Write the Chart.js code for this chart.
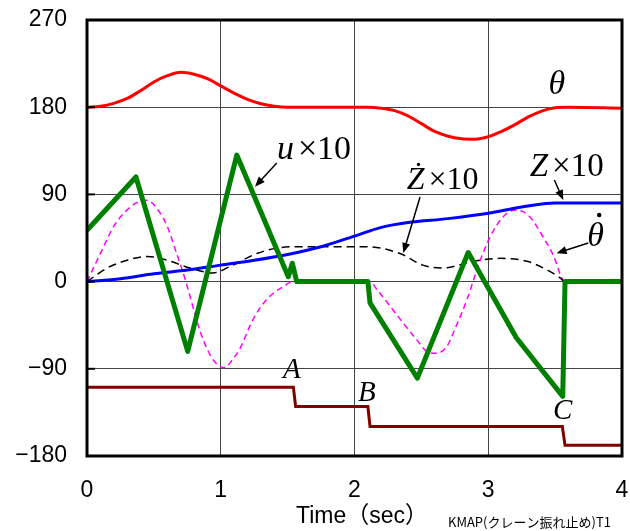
<!DOCTYPE html>
<html>
<head>
<meta charset="utf-8">
<script src="https://cdn.jsdelivr.net/npm/chart.js@4.4.0/dist/chart.umd.min.js"></script>
<style>
  html, body { margin: 0; padding: 0; background: #fff; }
  #wrap { width: 630px; height: 531px; }
</style>
</head>
<body>
<div id="wrap"><canvas id="c" width="630" height="531"></canvas></div>
<script>
// time axis (sec) and values
const xTicks = [0, 1, 2, 3, 4];
const yTicks = [-180, -90, 0, 90, 180, 270];

// theta (deg)
const thetaT = [0, 0.1, 0.2, 0.3, 0.4, 0.5, 0.6, 0.7, 0.8, 0.9, 1.0, 1.1, 1.2, 1.3, 1.4, 1.5, 1.6, 2.1, 2.2, 2.3, 2.4, 2.5, 2.6, 2.7, 2.8, 2.9, 3.0, 3.1, 3.2, 3.3, 3.4, 3.5, 3.6, 4.0];
const thetaV = [180, 181, 184, 189, 197, 206, 212.5, 216, 214, 209.5, 202, 194.5, 188, 183.5, 181, 180, 180, 180, 179, 176.5, 171, 163, 155, 150, 147.5, 147, 149.5, 155, 162, 170, 176, 179.5, 180, 179];

// Z x10
const zT = [0, 0.25, 0.5, 0.75, 1.0, 1.25, 1.5, 1.75, 2.0, 2.2, 2.4, 2.7, 3.0, 3.25, 3.5, 3.75, 4.0];
const zV = [0, 3, 8, 12, 17, 22, 28, 36, 47, 56, 61, 65, 70.5, 77, 81, 81, 81];

// Z-dot x10
const zdT = [0, 0.15, 0.3, 0.45, 0.6, 0.77, 0.94, 1.09, 1.27, 1.44, 1.6, 2.09, 2.34, 2.51, 2.66, 2.89, 3.09, 3.29, 3.44, 3.54, 3.57, 4.0];
const zdV = [0, 14, 22, 26, 22, 14, 9, 17, 29, 35, 36, 36, 29, 17, 14, 21, 24, 21, 12, 3.5, 0, 0];

// theta-dot
const tdT = [0, 0.1, 0.2, 0.3, 0.38, 0.45, 0.52, 0.6, 0.67, 0.7, 0.75, 0.8, 0.85, 0.9, 0.95, 1.0, 1.03, 1.09, 1.14, 1.24, 1.34, 1.47, 1.54, 2.116, 2.17, 2.27, 2.365, 2.465, 2.54, 2.61, 2.69, 2.76, 2.84, 2.94, 3.04, 3.14, 3.21, 3.31, 3.41, 3.49, 3.55, 3.57, 4.0];
const tdV = [0, 29, 57, 74, 82, 84, 76, 57, 29, 17, -5, -30, -53, -70, -82, -88, -89, -80, -70, -39.5, -19, -5, 0, 0, -8.6, -26, -43, -60, -72, -74, -67, -46, -19, 22, 53, 70.5, 74, 67, 46, 26, 3.5, 0, 0];

// u x10
const uT = [0, 0.366, 0.753, 1.12, 1.505, 1.535, 1.568, 2.10, 2.116, 2.47, 2.85, 3.21, 3.557, 3.574, 4.0];
const uV = [53, 108, -72, 130.6, 5, 19, 0, 0, -22, -99.6, 30, -58, -118.5, 0, 0];

// switching steps A, B, C
const stepT = [0, 1.543, 1.56, 2.10, 2.116, 3.554, 3.574, 4.0];
const stepV = [-109, -109, -129, -129, -149.5, -149.5, -169, -169];

function pts(xs, ys) {
    return xs.map((x, i) => ({ x: x, y: ys[i] }));
}

const serif = '"Liberation Serif", "DejaVu Serif", serif';
const sans = '"Liberation Sans", Arial, sans-serif';

function arrow(ctx, x1, y1, x2, y2) {
    const a = Math.atan2(y2 - y1, x2 - x1);
    const len = 10, half = 4;
    ctx.strokeStyle = '#000';
    ctx.fillStyle = '#000';
    ctx.lineWidth = 1.5;
    ctx.beginPath();
    ctx.moveTo(x1, y1);
    ctx.lineTo(x2 - Math.cos(a) * len * 0.8, y2 - Math.sin(a) * len * 0.8);
    ctx.stroke();
    ctx.beginPath();
    ctx.moveTo(x2, y2);
    ctx.lineTo(x2 - Math.cos(a) * len - Math.sin(a) * half, y2 - Math.sin(a) * len + Math.cos(a) * half);
    ctx.lineTo(x2 - Math.cos(a) * len + Math.sin(a) * half, y2 - Math.sin(a) * len - Math.cos(a) * half);
    ctx.closePath();
    ctx.fill();
}

// italic letter followed by upright "×10"
function label(ctx, letter, x, y, size) {
    ctx.font = 'italic ' + size + 'px ' + serif;
    ctx.fillText(letter, x, y);
    x += ctx.measureText(letter).width + 4;
    ctx.font = size + 'px ' + serif;
    ctx.fillText('×10', x, y);
}

const extras = {
    id: 'extras',
    beforeDraw(chart) {
        const ctx = chart.ctx;
        ctx.save();
        ctx.fillStyle = '#fff';
        ctx.fillRect(0, 0, chart.width, chart.height);
        ctx.restore();
    },
    afterDraw(chart) {
        const ctx = chart.ctx;
        const a = chart.chartArea;
        const sx = chart.scales.x, sy = chart.scales.y;
        const X = v => sx.getPixelForValue(v);
        const Y = v => sy.getPixelForValue(v);
        ctx.save();

        // frame
        ctx.strokeStyle = '#000';
        ctx.lineWidth = 3;
        ctx.strokeRect(a.left, a.top, a.right - a.left, a.bottom - a.top);

        // small tick marks on the left axis
        ctx.lineWidth = 2;
        yTicks.forEach(v => {
            ctx.beginPath();
            ctx.moveTo(a.left, Y(v));
            ctx.lineTo(a.left + 8, Y(v));
            ctx.stroke();
        });

        ctx.fillStyle = '#000';
        ctx.textBaseline = 'middle';
        ctx.textAlign = 'left';

        // theta
        ctx.font = 'italic 34px ' + serif;
        ctx.fillText('θ', X(3.45), Y(203));

        label(ctx, 'u', X(1.42), Y(136), 34);
        arrow(ctx, X(1.419), Y(122.4), X(1.256), Y(98));

        label(ctx, 'Ż', X(2.39), Y(104), 32);
        arrow(ctx, X(2.49), Y(87.3), X(2.365), Y(29.6));

        label(ctx, 'Z', X(3.31), Y(118), 33);
        arrow(ctx, X(3.494), Y(104.8), X(3.561), Y(84.2));

        // theta-dot
        ctx.font = 'italic 34px ' + serif;
        ctx.fillText('θ', X(3.74), Y(46));
        ctx.beginPath();
        ctx.arc(X(3.74) + 12, Y(46) - 22, 2.2, 0, Math.PI * 2);
        ctx.fill();
        arrow(ctx, X(3.748), Y(39.9), X(3.511), Y(29.3));

        // A, B, C
        ctx.font = 'italic 29px ' + serif;
        ctx.fillText('A', X(1.465), Y(-92));
        ctx.fillText('B', X(2.026), Y(-115));
        ctx.fillText('C', X(3.484), Y(-134));

        // axis title and footer
        ctx.font = '23px ' + sans + ', "Noto Sans CJK JP"';
        ctx.fillText('Time（sec）', 296, 517);
        ctx.font = '13px "Noto Sans CJK JP", ' + sans;
        ctx.fillText('KMAP(クレーン振れ止め)T1', 448, 522);

        ctx.restore();
    }
};

new Chart(document.getElementById('c'), {
    type: 'line',
    data: {
        datasets: [
            { label: 'u×10', data: pts(uT, uV), borderColor: '#008000', borderWidth: 5, tension: 0, borderJoinStyle: 'round' },
            { label: 'Z×10', data: pts(zT, zV), borderColor: '#0000ff', borderWidth: 3, cubicInterpolationMode: 'monotone' },
            { label: 'Ż×10', data: pts(zdT, zdV), borderColor: '#000', borderWidth: 1.5, borderDash: [8, 5], cubicInterpolationMode: 'monotone' },
            { label: 'θ̇', data: pts(tdT, tdV), borderColor: '#ff00ff', borderWidth: 1.5, borderDash: [6, 4], cubicInterpolationMode: 'monotone' },
            { label: 'θ', data: pts(thetaT, thetaV), borderColor: '#ff0000', borderWidth: 3, cubicInterpolationMode: 'monotone' },
            { label: 'step', data: pts(stepT, stepV), borderColor: '#800000', borderWidth: 3, tension: 0 }
        ]
    },
    options: {
        responsive: false,
        animation: false,
        events: [],
        elements: { point: { radius: 0 } },
        layout: { padding: { left: 0, right: 8, top: 20, bottom: 0 } },
        plugins: { legend: { display: false }, tooltip: { enabled: false } },
        scales: {
            x: {
                type: 'linear',
                min: 0, max: 4,
                afterFit(s) { s.height = 75; s.paddingLeft = 0; s.paddingRight = 0; },
                afterBuildTicks(s) { s.ticks = xTicks.map(v => ({ value: v })); },
                grid: { color: '#444', lineWidth: 1, drawTicks: false },
                border: { display: false },
                ticks: { color: '#000', padding: 21, maxRotation: 0, font: { family: sans, size: 23 } }
            },
            y: {
                type: 'linear',
                min: -180, max: 270,
                afterFit(s) { s.width = 87; s.paddingTop = 0; s.paddingBottom = 0; },
                afterBuildTicks(s) { s.ticks = yTicks.map(v => ({ value: v })); },
                grid: { color: '#444', lineWidth: 1, drawTicks: false },
                border: { display: false },
                ticks: {
                    color: '#000', padding: 20, font: { family: sans, size: 23 },
                    callback: v => (v < 0 ? '−' + Math.abs(v) : String(v))
                }
            }
        }
    },
    plugins: [extras]
});
</script>
</body>
</html>
